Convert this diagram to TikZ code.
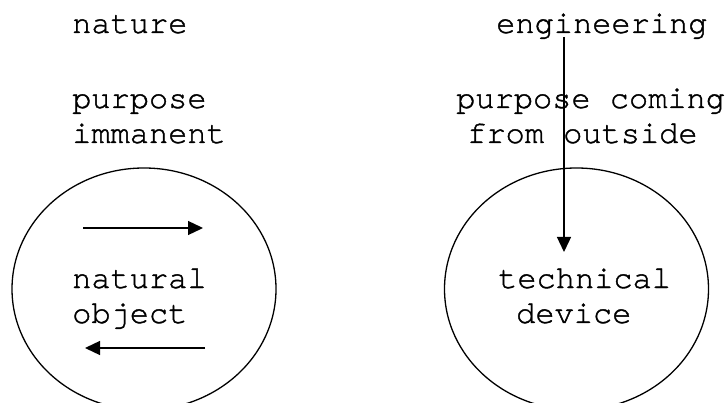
\documentclass[tikz,border=0pt]{standalone}
\usepackage{fontspec}
\setmainfont[FakeBold=1.2]{TeX Gyre Cursor}
\usetikzlibrary{arrows.meta,shapes.geometric}
\begin{document}
\begin{tikzpicture}[x=1pt,y=-1pt,
  txt/.style={inner sep=0pt, anchor=base west, font=\fontsize{32pt}{35pt}\selectfont},
  blob/.style={draw, ellipse, line width=1.3pt, inner sep=0pt, minimum width=264pt, minimum height=242pt},
  arr/.style={line width=1.3pt, -{Triangle[length=15pt,width=14pt]}}]
\clip (0,0) rectangle (728,403);
\useasboundingbox (0,0) rectangle (728,403);
% left
\node[txt] (nature) at (72,33) {nature};
\node[txt] (purp1) at (72,108) {purpose};
\node[txt] (imm) at (72,143) {immanent};
\node[blob] (natobj) at (144,289) {};
\node[txt] (natural) at (72,288) {natural};
\node[txt] (object) at (72,323) {object};
\coordinate (a1s) at (83,228);
\coordinate (a1e) at (203,228);
\coordinate (a2s) at (205,348);
\coordinate (a2e) at (85,348);
\draw[arr] (a1s) -- (a1e);
\draw[arr] (a2s) -- (a2e);
% right
\node[txt] (eng) at (496,33) {engineering};
\node[txt] (purp2) at (456,108) {purpose coming};
\node[txt] (from) at (467,143) {from outside};
\node[blob] (techdev) at (576.5,289) {};
\node[txt] (technical) at (498,288) {technical};
\node[txt] (device) at (516,323) {device};
\coordinate (vs) at (564,37);
\coordinate (ve) at (564,252);
\draw[arr] (vs) -- (ve);
\end{tikzpicture}
\end{document}
